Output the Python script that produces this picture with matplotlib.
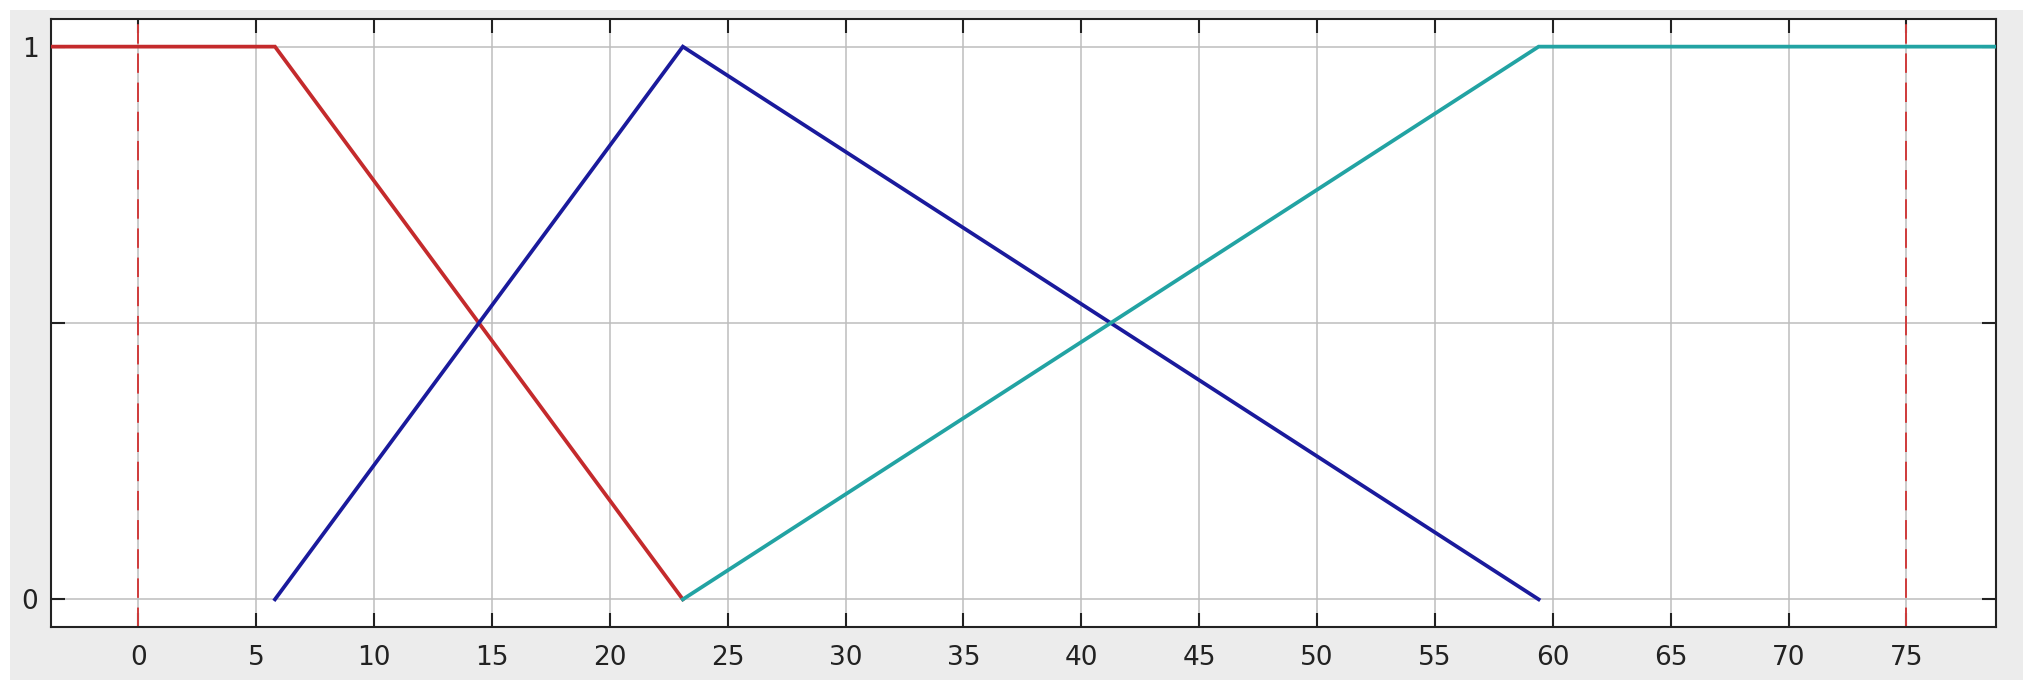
import numpy as np
import matplotlib
matplotlib.use("Agg")
import matplotlib.pyplot as plt
from matplotlib.patches import Rectangle

# membership functions
red_x = [-3.7, 5.8, 23.1]
red_y = [1, 1, 0]
blue_x = [5.8, 23.1, 59.4]
blue_y = [0, 1, 0]
cyan_x = [23.1, 59.4, 78.8]
cyan_y = [0, 1, 1]

range_marks = [0, 75]
x_ticks = list(range(0, 80, 5))
y_ticks = [0, 0.5, 1]
y_tick_labels = ["0", "", "1"]

fig = plt.figure(figsize=(20.33, 6.9), dpi=100, facecolor="white")
# grey panel behind the axes (MATLAB window look)
fig.patches.append(Rectangle((10 / 2033, 10 / 690), 2013 / 2033, 670 / 690,
                             transform=fig.transFigure, facecolor="#ececec",
                             edgecolor="none", zorder=-10))

ax = fig.add_axes([51 / 2033, 1 - 627 / 690, 1945 / 2033, 608 / 690])
ax.set_zorder(5)
ax.set_facecolor("white")

ax.plot(red_x, red_y, color="#c42a2c", lw=2.7, solid_joinstyle="miter", zorder=3)
ax.plot(blue_x, blue_y, color="#1a1a9c", lw=2.7, solid_joinstyle="miter", zorder=3)
ax.plot(cyan_x, cyan_y, color="#22a3a3", lw=2.7, solid_joinstyle="miter", zorder=3)

for xm in range_marks:
    ax.axvline(xm, color="#d03c3c", lw=1.4, ls=(0, (10, 5)), zorder=2)

ax.set_xlim(-3.7, 78.8)
ax.set_ylim(-0.05, 1.05)
ax.set_xticks(x_ticks)
ax.set_yticks(y_ticks)
ax.set_yticklabels(y_tick_labels)

ax.grid(True, color="#bdbdbd", lw=1.1, ls="-", zorder=1)
ax.set_axisbelow(True)

ax.tick_params(direction="in", length=10, width=1.5, color="#222222",
               top=True, right=True, labelsize=19, labelcolor="#222222", pad=13)
ax.tick_params(axis="y", pad=9)
for s in ax.spines.values():
    s.set_linewidth(1.5)
    s.set_color("#222222")

plt.savefig("out.png", dpi=100, facecolor="white")
